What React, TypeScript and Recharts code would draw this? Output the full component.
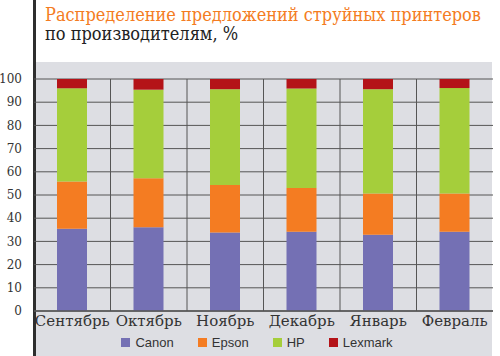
import React from 'react';
import { BarChart, Bar, XAxis, YAxis, CartesianGrid, Legend } from 'recharts';

const months = ['Сентябрь', 'Октябрь', 'Ноябрь', 'Декабрь', 'Январь', 'Февраль'];
const canon = [35.5, 36.1, 33.8, 34.2, 32.9, 34.2];
const epson = [20.3, 21.1, 20.5, 18.8, 17.8, 16.5];
const hp = [40.2, 38.2, 41.3, 42.9, 44.9, 45.4];
const lexmark = [4.0, 4.6, 4.4, 4.1, 4.4, 3.9];
const yTicks = [0, 10, 20, 30, 40, 50, 60, 70, 80, 90, 100];
const seriesNames = ['Canon', 'Epson', 'HP', 'Lexmark'];
const colors = ['#7470b4', '#f47c22', '#a5ce3b', '#b41318'];

const data = months.map((m, i) => ({
  month: m,
  Canon: canon[i],
  Epson: epson[i],
  HP: hp[i],
  Lexmark: lexmark[i],
}));

const SERIF = '"DejaVu Serif", serif';
const SERIF_C = '"DejaVu Serif Condensed", "DejaVu Serif", serif';

const renderLegend = (props: any) => {
  const { payload } = props;
  return (
    <div style={{ display: 'flex', justifyContent: 'center', alignItems: 'center', paddingLeft: 14, fontFamily: '"Liberation Sans", Arial, sans-serif', fontSize: 13, color: '#333' }}>
      {(payload || []).map((p: any, i: number) => (
        <div key={i} style={{ display: 'flex', alignItems: 'center', marginRight: i < 3 ? 24 : 0 }}>
          <span style={{ display: 'inline-block', width: 9, height: 9, background: p.color, marginRight: 5 }} />
          <span>{p.value}</span>
        </div>
      ))}
    </div>
  );
};

export default function App() {
  return (
    <div style={{ position: 'absolute', left: 0, top: 0, width: 500, height: 356, background: '#fff', overflow: 'hidden' }}>
      <div style={{ position: 'absolute', left: 36, top: 62, width: 456, height: 294, background: '#dddee3' }} />
      <div style={{ position: 'absolute', left: 33, top: 0, width: 3, height: 356, background: '#2e2e2e' }} />
      <div style={{ position: 'absolute', left: 45, top: 5, fontFamily: SERIF_C, fontSize: 18, color: '#f47c22', whiteSpace: 'nowrap', lineHeight: '20px' }}>
        Распределение предложений струйных принтеров
      </div>
      <div style={{ position: 'absolute', left: 45, top: 24, fontFamily: SERIF_C, fontSize: 18, color: '#222', whiteSpace: 'nowrap', lineHeight: '20px' }}>
        по производителям, %
      </div>
      <div style={{ position: 'absolute', left: 0, top: 0 }}>
        <BarChart width={500} height={356} data={data} margin={{ top: 79, right: 7, left: 0, bottom: 6 }}>
          <CartesianGrid
            stroke="#555"
            strokeWidth={1}
            verticalCoordinatesGenerator={(p: any) => {
              const off = p.offset;
              const n = months.length;
              return months.slice(1).map((_, i) => off.left + ((i + 1) * off.width) / n);
            }}
          />
          <XAxis
            dataKey="month"
            tickLine={false}
            tickSize={2}
            tickMargin={2}
            height={24}
            axisLine={{ stroke: '#555', strokeWidth: 1.5 }}
            tick={{ fontFamily: SERIF, fontSize: 15, fill: '#333' }}
            interval={0}
          />
          <YAxis
            domain={[0, 100]}
            ticks={yTicks}
            width={34}
            tickLine={false}
            axisLine={false}
            tickSize={0}
            tickMargin={12}
            tick={{ fontFamily: SERIF, fontSize: 12, fill: '#333' }}
          />
          <Legend
            content={renderLegend}
            verticalAlign="bottom"
            wrapperStyle={{ position: 'absolute', left: 0, width: 500, top: 335 }}
          />
          {seriesNames.map((s, i) => (
            <Bar key={s} dataKey={s} stackId="a" fill={colors[i]} barSize={30} isAnimationActive={false} />
          ))}
        </BarChart>
      </div>
    </div>
  );
}
